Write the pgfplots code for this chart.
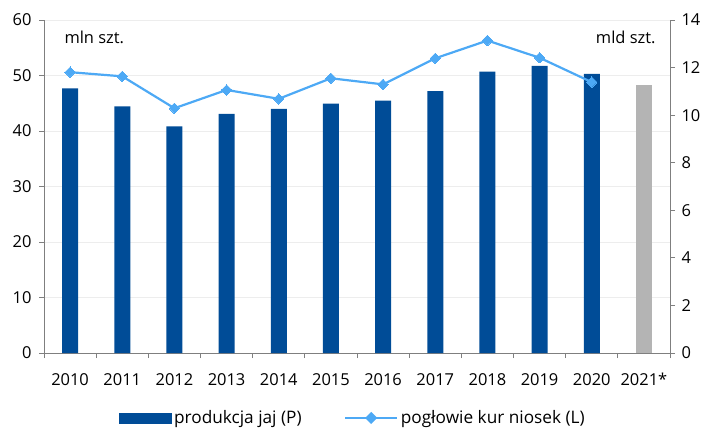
\documentclass[border=0pt]{standalone}
\usepackage{pgfplots}
\pgfplotsset{compat=1.18}
\usepackage{fontspec}
\setmainfont{Open Sans}
\definecolor{barblue}{HTML}{004C97}
\definecolor{lineblue}{HTML}{4DA9F5}
\definecolor{bargray}{HTML}{B4B4B4}
\definecolor{axgray}{HTML}{7F7F7F}
\definecolor{gridgray}{HTML}{EDEDED}
\begin{document}
\begin{tikzpicture}[font=\fontsize{16.5}{19}\selectfont]
\path[use as bounding box] (-44bp,-77bp) rectangle (664bp,353bp);
\pgfplotsset{common/.style={
  scale only axis, width=626bp, height=333bp,
  xmin=-0.5, xmax=11.5,
  /pgf/number format/assume math mode=true,
  tick label style={font=\fontsize{16.5}{19}\selectfont, text=black},
  axis line style={axgray, line width=0.9bp},
  tick style={axgray, line width=0.9bp},
  major tick length=5bp,
  tick align=outside,
}}
% axis A: left scale, grid, left axis and x axis
\begin{axis}[common,
  ymin=0, ymax=60, ytick={0,10,...,60},
  ymajorgrids, grid style={gridgray, line width=0.9bp},
  axis y line*=left, axis x line*=bottom,
  xtick={-0.5,0.5,...,11.5},
  xticklabels={2010,2011,2012,2013,2014,2015,2016,2017,2018,2019,2020,2021*},
  x tick label as interval,
  xticklabel style={anchor=base, yshift=-27bp},
  yticklabel style={xshift=-4bp},
]
\addplot[draw=none, forget plot] coordinates {(0,0)};
\node[anchor=north west] at (rel axis cs:0,1) [xshift=17bp, yshift=-7bp] {mln szt.};
\end{axis}
% axis B: bars, right scale
\begin{axis}[common,
  ymin=0, ymax=14, ytick={0,2,...,14},
  axis y line*=right, axis x line=none,
  yticklabel style={xshift=3bp},
]
\addplot[ybar, bar width=16bp, bar shift=0pt, fill=barblue, draw=none] coordinates {
(0,11.13) (1,10.37) (2,9.53) (3,10.05) (4,10.26) (5,10.48) (6,10.61) (7,11.01) (8,11.83) (9,12.07) (10,11.74)};
\addplot[ybar, bar width=16bp, bar shift=0pt, fill=bargray, draw=none] coordinates {(11,11.27)};
\node[anchor=north east] at (rel axis cs:1,1) [xshift=-11bp, yshift=-7bp] {mld szt.};
\end{axis}
% axis C: line, left scale, legend
\begin{axis}[common,
  ymin=0, ymax=60, hide axis,
  legend style={at={(rel axis cs:0.494,-0.195)}, anchor=center, draw=none, fill=none,
    legend columns=2, font=\fontsize{17.3}{20}\selectfont,
    nodes={inner sep=2.5bp},
    /tikz/every even column/.append style={column sep=40bp}},
]
\addlegendimage{legend image code/.code={\fill[barblue] (0bp,-5bp) rectangle (52bp,5bp);}}
\addlegendentry{produkcja jaj (P)}
\addplot[lineblue, line width=2.2bp, mark=square*, mark size=3.7bp, mark options={rotate=45, fill=lineblue, draw=lineblue, line width=0pt},
  legend image code/.code={\draw[lineblue, line width=2.2bp] (0bp,0bp) -- (52bp,0bp); \fill[lineblue, rotate around={45:(26bp,0bp)}] (22.8bp,-3.2bp) rectangle (29.2bp,3.2bp);}]
coordinates {(0,50.6) (1,49.85) (2,44.1) (3,47.4) (4,45.8) (5,49.5) (6,48.4) (7,53.1) (8,56.3) (9,53.2) (10,48.8)};
\addlegendentry{pogłowie kur niosek (L)}
\end{axis}
\end{tikzpicture}
\end{document}
